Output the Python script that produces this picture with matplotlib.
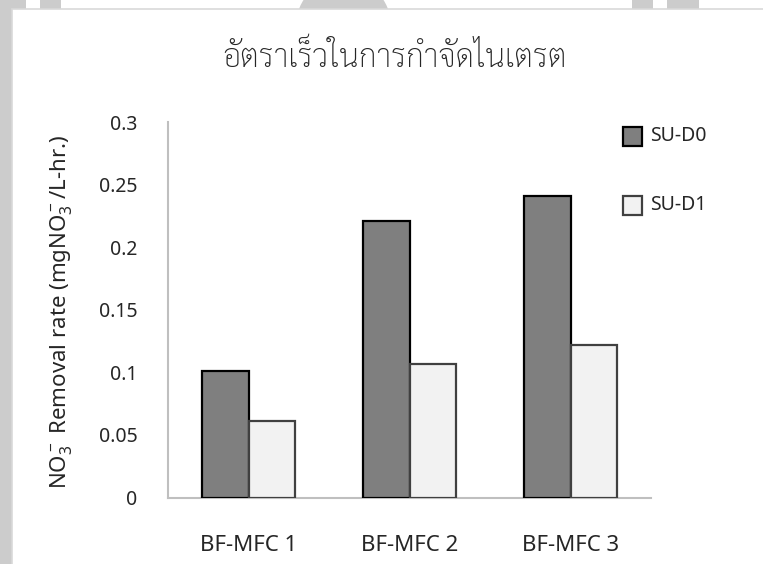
import matplotlib
matplotlib.use("Agg")
import matplotlib.pyplot as plt
from matplotlib.patches import Rectangle, Circle
import numpy as np

# Data
categories = ["BF-MFC 1", "BF-MFC 2", "BF-MFC 3"]
series_names = ["SU-D0", "SU-D1"]
su_d0 = [0.101, 0.221, 0.241]
su_d1 = [0.061, 0.107, 0.122]
yticks = [0, 0.05, 0.1, 0.15, 0.2, 0.25, 0.3]
ytick_labels = ["0", "0.05", "0.1", "0.15", "0.2", "0.25", "0.3"]
title = "อัตราเร็วในการกำจัดไนเตรต"

plt.rcParams["font.family"] = ["Noto Sans", "DejaVu Sans"]
plt.rcParams["mathtext.fontset"] = "custom"
plt.rcParams["mathtext.rm"] = "Noto Sans"
plt.rcParams["mathtext.it"] = "Noto Sans"

W, H = 763, 564
fig = plt.figure(figsize=(W / 100, H / 100), dpi=100)
fig.patch.set_facecolor("white")

def px(x, y, w, h):
    # pixel box (from top-left) -> figure fraction rectangle
    return (x / W, 1 - (y + h) / H), w / W, h / H

# page background strips around the chart frame
grey = "#cccccc"
for (x, y, w, h) in [(0, 0, 11.5, H), (0, 0, 26, 12), (40, 0, 21, 12),
                     (632, 0, 21, 12), (667, 0, 32, 12)]:
    xy, ww, hh = px(x, y, w, h)
    fig.add_artist(Rectangle(xy, ww, hh, transform=fig.transFigure,
                             facecolor=grey, edgecolor="none", zorder=0))
fig.add_artist(Circle((343.5, H - 25.6), 47.5, transform=None,
                      facecolor=grey, edgecolor="none", zorder=0))
xy, ww, hh = px(11.5, 9, W, H)
fig.add_artist(Rectangle(xy, ww, hh, transform=fig.transFigure,
                         facecolor="white", edgecolor="#d9d9d9", lw=1.2, zorder=0.5))

# plot area
ax = fig.add_axes([168 / W, 1 - 497.5 / H, 483 / W, 375.5 / H])
ax.set_facecolor("none")
ax.set_zorder(2)

x = np.arange(len(categories))
bw = 0.286
ax.bar(x - bw / 2, su_d0, bw, color="#7f7f7f", edgecolor="#000000", lw=1.6,
       label=series_names[0], zorder=3)
ax.bar(x + bw / 2, su_d1, bw, color="#f2f2f2", edgecolor="#404040", lw=1.6,
       label=series_names[1], zorder=3)

ax.set_xlim(-0.5, 2.5)
ax.set_ylim(0, 0.3)
ax.set_xticks(x)
ax.set_xticklabels(categories, fontsize=16, color="#262626")
ax.set_yticks(yticks)
ax.set_yticklabels(ytick_labels, fontsize=14, color="#262626")
ax.tick_params(axis="both", length=0)
ax.tick_params(axis="x", pad=27)
ax.tick_params(axis="y", pad=22)
for s in ["top", "right"]:
    ax.spines[s].set_visible(False)
for s in ["left", "bottom"]:
    ax.spines[s].set_color("#bfbfbf")
    ax.spines[s].set_linewidth(1.5)

# title and axis label
fig.text(395 / W, 1 - 57 / H, title, ha="center", va="center", fontsize=23,
         fontweight="light", color="#262626", family=["Sarabun", "DejaVu Sans"])
fig.text(61 / W, 1 - 312 / H,
         r"NO$_3^-$ Removal rate (mgNO$_3^-$/L-hr.)",
         rotation=90, ha="center", va="center", fontsize=16, color="#262626")

# legend
styles = [("#7f7f7f", "#000000"), ("#f2f2f2", "#404040")]
for i, (name, (fc, ec)) in enumerate(zip(series_names, styles)):
    cy = 136 + i * 69.5
    xy, ww, hh = px(622.5, cy - 9.5, 19, 19)
    fig.add_artist(Rectangle(xy, ww, hh, transform=fig.transFigure,
                             facecolor=fc, edgecolor=ec, lw=1.6, zorder=3))
    fig.text(650 / W, 1 - cy / H, name, ha="left", va="center", fontsize=14,
             color="#262626")

fig.savefig("out.png", dpi=100)
